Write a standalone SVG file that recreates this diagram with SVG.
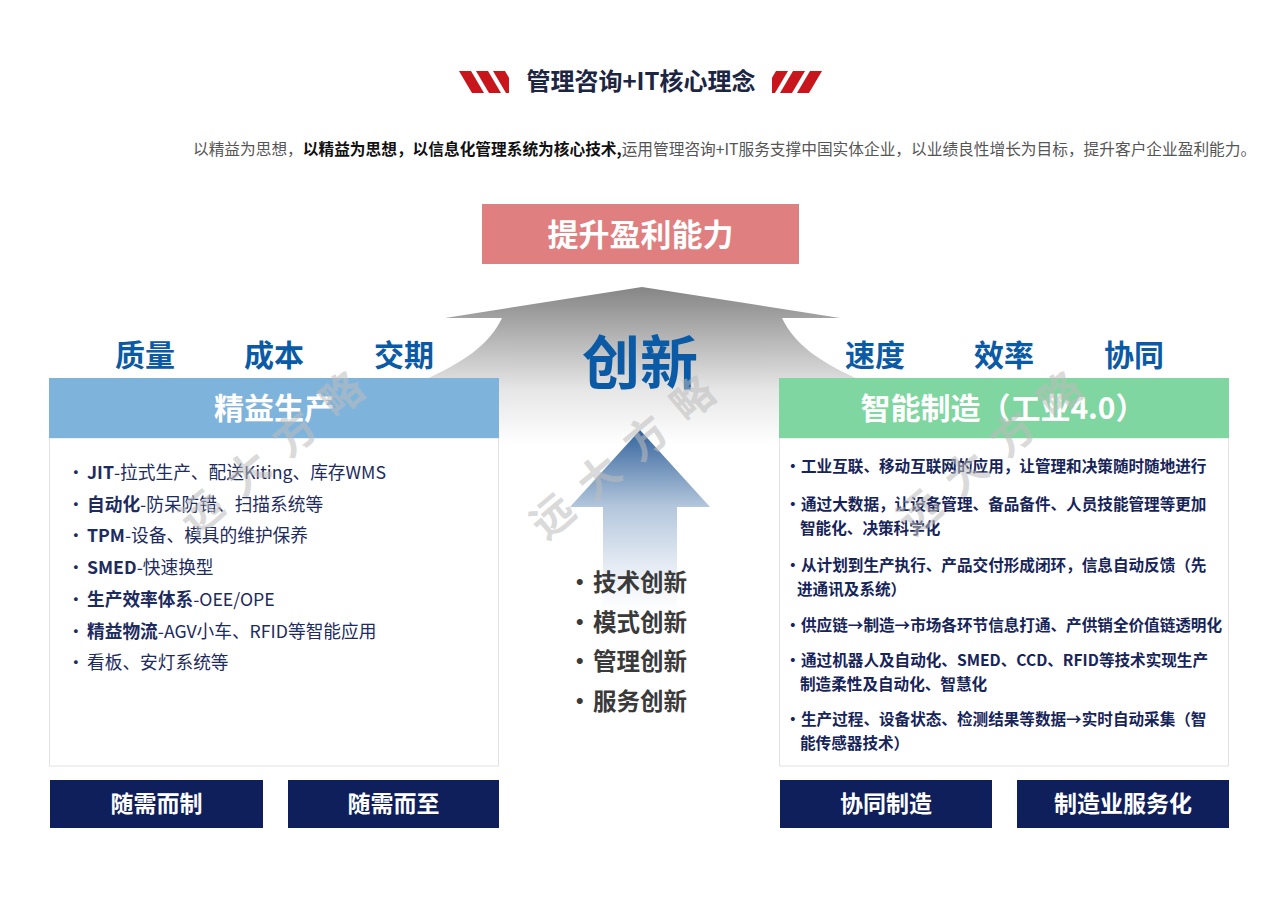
<svg xmlns="http://www.w3.org/2000/svg" width="1280" height="897" viewBox="0 0 1280 897">
<defs>
<style>
text{font-family:"Noto Sans CJK SC","Noto Sans",sans-serif}
.b{font-weight:700}
.kw{fill:#0b5aa6;font-size:30px;font-weight:700;text-anchor:middle}
.hd{fill:#ffffff;font-size:30px;font-weight:700;text-anchor:middle}
.ll{fill:#1d2b5e;font-size:17.7px}
.rl{fill:#16245a;font-size:15.6px;font-weight:700}
.cl{fill:#3a3a3a;font-size:23.5px;font-weight:700}
.btn rect{fill:#0f1f5c}
.btn text{fill:#ffffff;font-size:23px;font-weight:700;text-anchor:middle}
.wm{fill:#bdbdbd;opacity:0.55;font-size:42px;font-weight:700;letter-spacing:19px;text-anchor:middle}
.slash{fill:#c8161d}
</style>
<linearGradient id="gray" gradientUnits="userSpaceOnUse" x1="0" y1="287" x2="0" y2="445">
<stop offset="0" stop-color="#858585"/>
<stop offset="0.3" stop-color="#b2b2b2"/>
<stop offset="0.65" stop-color="#e6e6e6"/>
<stop offset="1" stop-color="#ffffff"/>
</linearGradient>
<linearGradient id="blue" gradientUnits="userSpaceOnUse" x1="0" y1="430" x2="0" y2="612">
<stop offset="0" stop-color="#34649c"/>
<stop offset="0.42" stop-color="#b3c6dc"/>
<stop offset="0.75" stop-color="#e6ecf4"/>
<stop offset="1" stop-color="#ffffff"/>
</linearGradient>
<clipPath id="slc"><rect x="459" y="71" width="50" height="22"/></clipPath>
</defs>
<rect width="1280" height="897" fill="#ffffff"/>

<g id="title">
<g clip-path="url(#slc)" class="slash">
<polygon points="459,71 471,71 484,93 472,93"/>
<polygon points="476,71 488,71 501,93 489,93"/>
<polygon points="493,71 505,71 518,93 506,93"/>
</g>
<g transform="translate(1281,0) scale(-1,1)">
<g clip-path="url(#slc)" class="slash">
<polygon points="459,71 471,71 484,93 472,93"/>
<polygon points="476,71 488,71 501,93 489,93"/>
<polygon points="493,71 505,71 518,93 506,93"/>
</g>
</g>
<text x="641" y="90" text-anchor="middle" class="b" style="font-size:24px;fill:#1c2541">管理咨询+IT核心理念</text>
</g>

<g id="subtitle">
<text x="193" y="155" style="font-size:15.7px;fill:#555555">以精益为思想，<tspan class="b" fill="#111111">以精益为思想，以信息化管理系统为核心技术,</tspan>运用管理咨询+IT服务支撑中国实体企业，以业绩良性增长为目标，提升客户企业盈利能力。</text>
</g>

<g id="goal">
<rect x="482" y="204" width="317" height="60" fill="#df7f80"/>
<text x="640.5" y="246" text-anchor="middle" class="b" style="font-size:31px;fill:#ffffff">提升盈利能力</text>
</g>

<g id="big-arrow">
<path d="M642,287 L840,318 L782,318 C795,345 820,362 860,380 L860,445 L424,445 L424,380 C464,362 489,345 502,318 L445,318 Z" fill="url(#gray)"/>
</g>

<g id="innovation">
<text x="640" y="384" text-anchor="middle" class="b" style="font-size:58px;fill:#0b5aa6">创新</text>
<path d="M640,430 L710,507 L677,507 L677,612 L603,612 L603,507 L570,507 Z" fill="url(#blue)"/>
<g class="cl">
<text x="568" y="591">·<tspan x="593">技术创新</tspan></text>
<text x="568" y="631">·<tspan x="593">模式创新</tspan></text>
<text x="568" y="670">·<tspan x="593">管理创新</tspan></text>
<text x="568" y="710">·<tspan x="593">服务创新</tspan></text>
</g>
</g>

<g id="keywords">
<text class="kw" x="145" y="366">质量</text>
<text class="kw" x="274" y="366">成本</text>
<text class="kw" x="404" y="366">交期</text>
<text class="kw" x="875" y="366">速度</text>
<text class="kw" x="1004" y="366">效率</text>
<text class="kw" x="1134" y="366">协同</text>
</g>

<g id="lean">
<rect x="49.5" y="438" width="449" height="328" fill="#ffffff" stroke="#e2e2e2" stroke-width="1"/>
<rect x="49" y="378" width="450" height="60" fill="#7eb4dc"/>
<text class="hd" x="274" y="419">精益生产</text>
<g class="ll">
<text x="67" y="479">·<tspan x="87" class="b">JIT</tspan>-拉式生产、配送Kiting、库存WMS</text>
<text x="67" y="511">·<tspan x="87" class="b">自动化</tspan>-防呆防错、扫描系统等</text>
<text x="67" y="542">·<tspan x="87" class="b">TPM</tspan>-设备、模具的维护保养</text>
<text x="67" y="574">·<tspan x="87" class="b">SMED</tspan>-快速换型</text>
<text x="67" y="606">·<tspan x="87" class="b">生产效率体系</tspan>-OEE/OPE</text>
<text x="67" y="638">·<tspan x="87" class="b">精益物流</tspan>-AGV小车、RFID等智能应用</text>
<text x="67" y="669">·<tspan x="87">看板、安灯系统等</tspan></text>
</g>
</g>

<g id="smart">
<rect x="779.5" y="438" width="449" height="328" fill="#ffffff" stroke="#e2e2e2" stroke-width="1"/>
<rect x="779" y="378" width="450" height="60" fill="#80d6a0"/>
<text class="hd" x="1003" y="419">智能制造（工业4.0）</text>
<g class="rl">
<text x="785" y="472">·<tspan x="801">工业互联、移动互联网的应用，让管理和决策随时随地进行</tspan></text>
<text x="785" y="510">·<tspan x="801">通过大数据，让设备管理、备品备件、人员技能管理等更加</tspan></text>
<text x="800" y="534">智能化、决策科学化</text>
<text x="785" y="571">·<tspan x="801">从计划到生产执行、产品交付形成闭环，信息自动反馈（先</tspan></text>
<text x="797" y="595">进通讯及系统）</text>
<text x="785" y="631">·<tspan x="801">供应链→制造→市场各环节信息打通、产供销全价值链透明化</tspan></text>
<text x="785" y="666">·<tspan x="801">通过机器人及自动化、SMED、CCD、RFID等技术实现生产</tspan></text>
<text x="800" y="690">制造柔性及自动化、智慧化</text>
<text x="785" y="725">·<tspan x="801">生产过程、设备状态、检测结果等数据→实时自动采集（智</tspan></text>
<text x="800" y="749">能传感器技术）</text>
</g>
</g>

<g id="btn1" class="btn"><rect x="50" y="780" width="213" height="48"/><text x="156.5" y="812">随需而制</text></g>
<g id="btn2" class="btn"><rect x="288" y="780" width="211" height="48"/><text x="393.5" y="812">随需而至</text></g>
<g id="btn3" class="btn"><rect x="780" y="780" width="212" height="48"/><text x="886" y="812">协同制造</text></g>
<g id="btn4" class="btn"><rect x="1017" y="780" width="212" height="48"/><text x="1123" y="812">制造业服务化</text></g>

<g id="watermarks">
<text class="wm" transform="translate(272,453) rotate(-40)" x="9" y="15">远大方略</text>
<text class="wm" transform="translate(623,457) rotate(-40)" x="9" y="15">远大方略</text>
<text class="wm" transform="translate(990,453) rotate(-40)" x="9" y="15">远大方略</text>
</g>
</svg>
